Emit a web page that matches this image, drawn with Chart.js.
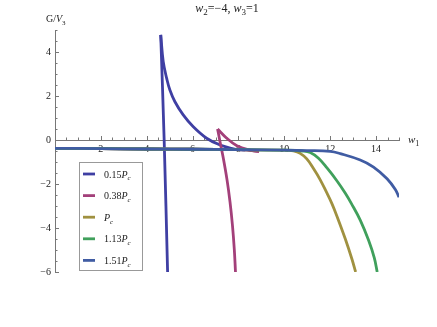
<!DOCTYPE html>
<html>
<head>
<meta charset="utf-8">
<script src="https://cdn.jsdelivr.net/npm/chart.js@4/dist/chart.umd.min.js"></script>
<style>
  html, body { margin: 0; padding: 0; background: #fff; }
</style>
</head>
<body>
<canvas id="c" width="437" height="327"></canvas>
<script>
// values (w1 on x, G/V3 on y)
const p015LowX = [0, 2, 4, 6, 8, 8.3];
const p015LowY = [-0.38, -0.39, -0.41, -0.42, -0.44, -0.45];
const p015UpX = [4.61, 4.72, 4.87, 5.01, 5.23, 5.59, 6.03, 6.61, 7.2, 7.78, 8.07, 8.3];
const p015UpY = [4.78, 3.56, 2.8, 2.27, 1.74, 1.14, 0.6, 0.08, -0.23, -0.4, -0.44, -0.45];
const p015SteepX = [4.61, 4.76, 4.91];
const p015SteepY = [4.78, 0, -6];

const p038LowX = [0, 2, 4, 6, 8, 8.9];
const p038LowY = [-0.38, -0.39, -0.41, -0.42, -0.44, -0.52];
const p038UpX = [7.09, 7.49, 7.93, 8.5, 8.9];
const p038UpY = [0.5, 0.08, -0.26, -0.46, -0.52];
const p038SteepX = [7.09, 7.2, 7.34, 7.5, 7.63, 7.74, 7.82, 7.87];
const p038SteepY = [0.5, -0.1, -0.83, -1.8, -2.8, -3.9, -5.0, -6];

const pcX = [0, 2, 4, 6, 8, 10, 10.4, 10.69, 10.98, 11.27, 11.56, 11.86, 12.07, 12.29, 12.66, 12.95, 13.11];
const pcY = [-0.38, -0.39, -0.41, -0.42, -0.44, -0.46, -0.5, -0.61, -0.86, -1.3, -1.8, -2.42, -2.88, -3.45, -4.5, -5.42, -6];

const p113X = [0, 2, 4, 6, 8, 10, 10.8, 11.13, 11.49, 11.86, 12.29, 12.66, 12.92, 13.31, 13.67, 13.92, 14.05];
const p113Y = [-0.38, -0.39, -0.41, -0.42, -0.44, -0.46, -0.5, -0.57, -0.83, -1.27, -1.85, -2.42, -2.88, -3.64, -4.55, -5.35, -6];

const p151X = [0, 2, 4, 6, 8, 10, 11, 12, 12.44, 13.31, 13.89, 14.48, 14.84, 15];
const p151Y = [-0.38, -0.39, -0.41, -0.42, -0.44, -0.46, -0.48, -0.52, -0.62, -0.91, -1.23, -1.76, -2.25, -2.6];

const legendNums = ['0.15', '0.38', '', '1.13', '1.51'];
const colors = ['#3f3fa3', '#a3407a', '#a09140', '#40a05c', '#405ca3'];

function pts(xs, ys) {
  return xs.map((x, i) => ({ x: x, y: ys[i] }));
}

function line(xs, ys, series) {
  return {
    data: pts(xs, ys),
    showLine: true,
    borderColor: colors[series],
    borderWidth: 2.8,
    pointRadius: 0,
    tension: 0.4,
    order: 4 - series
  };
}

function minus(v) {
  return v < 0 ? '\u2212' + Math.abs(v) : String(v);
}

// text built from runs: [text, style]; '' normal, 'i' italic, 's' subscript, 'si' italic subscript
function runFont(style, size) {
  const sub = style.indexOf('s') >= 0;
  const it = style.indexOf('i') >= 0;
  const sz = sub ? Math.round(size * 0.72) : size;
  return (it ? 'italic ' : '') + sz + 'px "Liberation Serif", "DejaVu Serif", serif';
}

function drawRich(ctx, runs, x, y, size, align) {
  let total = 0;
  runs.forEach(r => { ctx.font = runFont(r[1], size); total += ctx.measureText(r[0]).width; });
  let cx = align === 'center' ? x - total / 2 : x;
  ctx.textAlign = 'left';
  ctx.textBaseline = 'alphabetic';
  runs.forEach(r => {
    ctx.font = runFont(r[1], size);
    const dy = r[1].indexOf('s') >= 0 ? size * 0.28 : 0;
    ctx.fillText(r[0], cx, y + dy);
    cx += ctx.measureText(r[0]).width;
  });
}

const mmaAxes = {
  id: 'mmaAxes',
  beforeDatasetsDraw(chart) {
    const { ctx, scales: { x, y } } = chart;
    const y0 = y.getPixelForValue(0);
    ctx.save();
    ctx.strokeStyle = '#777';
    ctx.lineWidth = 1;
    ctx.beginPath();
    x.ticks.forEach(t => {
      if (t.value === 0) return;
      const px = Math.round(x.getPixelForValue(t.value)) + 0.5;
      const len = t.value % 2 === 0 ? 4 : 2.5;
      ctx.moveTo(px, y0);
      ctx.lineTo(px, y0 - len);
    });
    y.ticks.forEach(t => {
      const py = Math.round(y.getPixelForValue(t.value)) + 0.5;
      const len = t.value % 2 === 0 ? 4 : 2.5;
      ctx.moveTo(x.left, py);
      ctx.lineTo(x.left + len, py);
    });
    ctx.stroke();
    ctx.restore();
  },
  afterDraw(chart) {
    const { ctx, chartArea } = chart;
    ctx.save();
    ctx.fillStyle = '#222';
    const mid = (chartArea.left + chartArea.right) / 2;
    drawRich(ctx, [['w', 'i'], ['2', 's'], ['=\u22124, ', ''], ['w', 'i'], ['3', 's'], ['=1', '']], mid, 12, 12, 'center');
    drawRich(ctx, [['G/', ''], ['V', 'i'], ['3', 's']], 46, 22, 10, 'left');
    const y0 = chart.scales.y.getPixelForValue(0);
    drawRich(ctx, [['w', 'i'], ['1', 's']], 408, y0 + 3, 11, 'left');

    // legend
    ctx.fillStyle = '#fff';
    ctx.fillRect(79.5, 162.5, 63, 108);
    ctx.strokeStyle = '#999';
    ctx.lineWidth = 1;
    ctx.strokeRect(79.5, 162.5, 63, 108);
    legendNums.forEach((num, i) => {
      const ly = 174 + i * 21.6;
      ctx.strokeStyle = colors[i];
      ctx.lineWidth = 2.8;
      ctx.beginPath();
      ctx.moveTo(83, ly);
      ctx.lineTo(95, ly);
      ctx.stroke();
      ctx.fillStyle = '#222';
      drawRich(ctx, [[num, ''], ['P', 'i'], ['c', 'si']], 104, ly + 3.5, 10, 'left');
    });
    ctx.restore();
  }
};

new Chart(document.getElementById('c'), {
  type: 'scatter',
  data: {
    datasets: [
      line(p015LowX, p015LowY, 0),
      line(p015UpX, p015UpY, 0),
      line(p015SteepX, p015SteepY, 0),
      line(p038LowX, p038LowY, 1),
      line(p038UpX, p038UpY, 1),
      line(p038SteepX, p038SteepY, 1),
      line(pcX, pcY, 2),
      line(p113X, p113Y, 3),
      line(p151X, p151Y, 4)
    ]
  },
  options: {
    responsive: false,
    animation: false,
    layout: { padding: { left: 0, right: 38, top: 30, bottom: 55 } },
    plugins: {
      legend: { display: false },
      tooltip: { enabled: false },
      title: { display: false }
    },
    scales: {
      x: {
        type: 'linear',
        position: { y: 0 },
        min: 0,
        max: 15,
        grid: { display: false, drawTicks: false },
        border: { display: true, color: '#777', width: 1 },
        ticks: {
          stepSize: 0.5,
          autoSkip: false,
          maxRotation: 0,
          padding: 3,
          color: '#222',
          font: { family: '"Liberation Serif", serif', size: 10 },
          callback: v => (v % 2 === 0 && v !== 0) ? minus(v) : ''
        }
      },
      y: {
        type: 'linear',
        position: 'left',
        min: -6,
        max: 5,
        afterFit: s => { s.width = 55; },
        grid: { display: false, drawTicks: false },
        border: { display: true, color: '#777', width: 1 },
        ticks: {
          stepSize: 0.5,
          autoSkip: false,
          padding: 4,
          color: '#222',
          font: { family: '"Liberation Serif", serif', size: 10 },
          callback: v => v % 2 === 0 ? minus(v) : ''
        }
      }
    }
  },
  plugins: [mmaAxes]
});
</script>
</body>
</html>
